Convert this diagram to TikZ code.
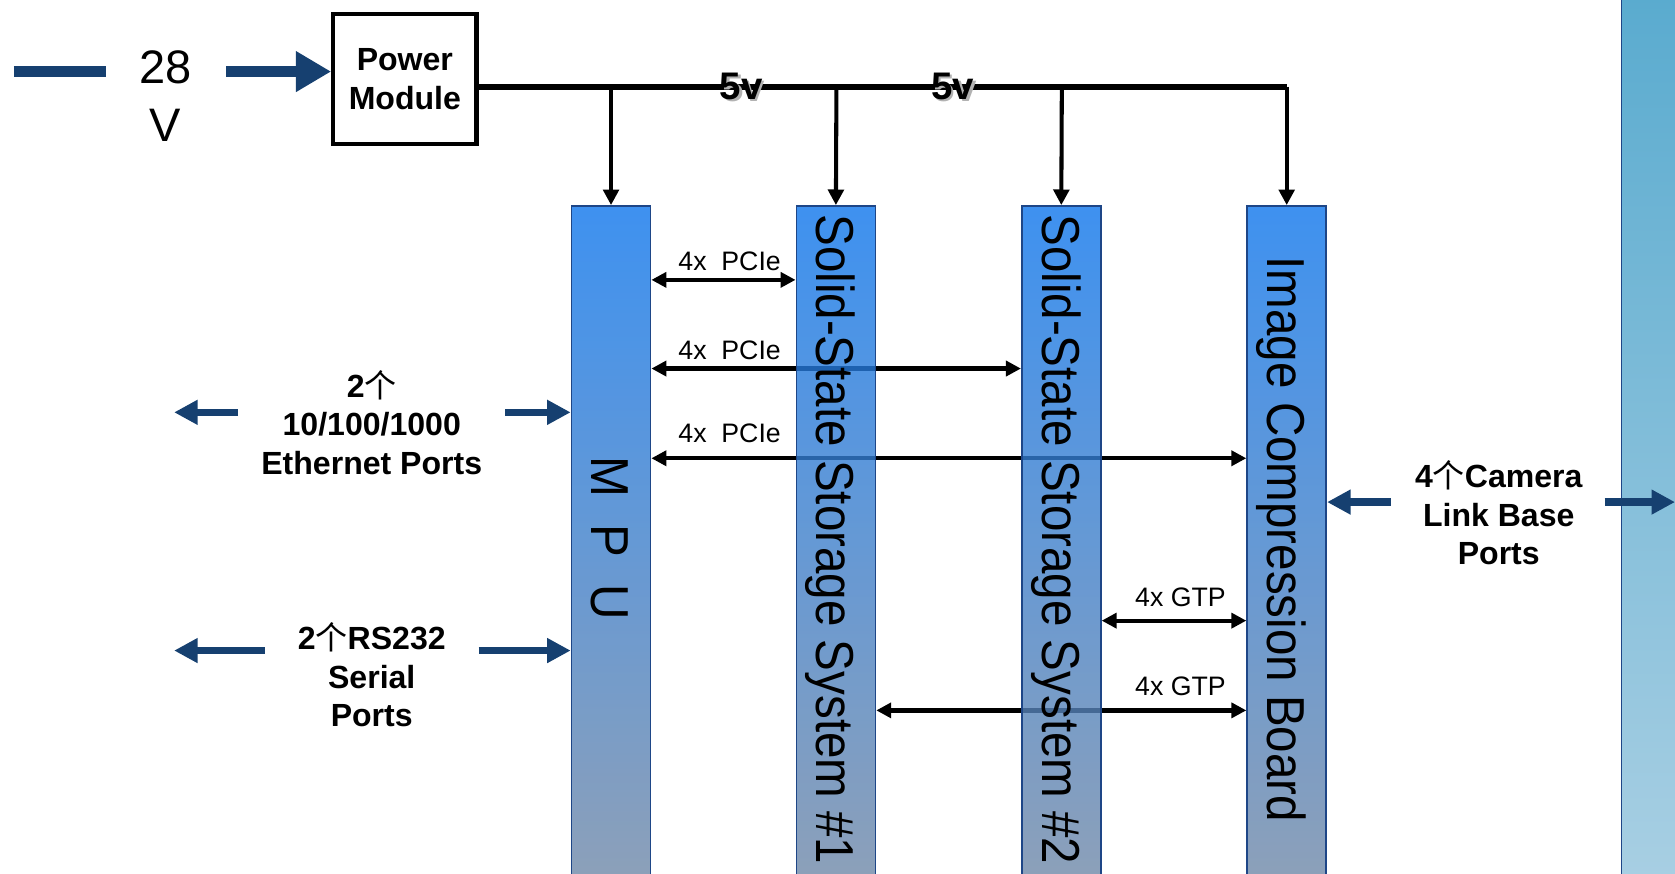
\documentclass[tikz,border=0pt]{standalone}
\usepackage{fontspec}
\setmainfont{Liberation Sans}
\newfontfamily\cjk{Noto Sans CJK SC}
\usetikzlibrary{arrows.meta}
\definecolor{navy}{RGB}{22,64,112}
\definecolor{coltop}{RGB}{14,118,236}
\definecolor{colbot}{RGB}{111,136,168}
\definecolor{colborder}{RGB}{30,70,135}
\definecolor{bartop}{RGB}{90,171,207}
\definecolor{barbot}{RGB}{168,207,227}
\pgfdeclarelayer{bg}
\pgfsetlayers{bg,main}
\newcommand{\gechar}{{\cjk\mdseries 个}}
\begin{document}
\begin{tikzpicture}[x=0.5pt,y=-0.5pt,
  colbox/.style={draw=colborder, line width=0.8pt, top color=coltop, bottom color=colbot, fill opacity=0.8, draw opacity=1, minimum width=37pt, minimum height=313.5pt, anchor=north, inner sep=0pt},
  vtext/.style={rotate=-90, anchor=base, inner sep=0pt, font=\fontsize{25}{30}\selectfont},
  lbl/.style={font=\bfseries\fontsize{15}{18}\selectfont, align=center, inner sep=0pt},
  buslbl/.style={font=\fontsize{12.5}{15}\selectfont, inner sep=0pt},
  vlbl/.style={font=\bfseries\fontsize{18}{20}\selectfont, inner sep=0pt},
  drop/.style={line width=1.9pt, -{Triangle[length=7.3pt,width=7.3pt]}},
  dbl/.style={line width=2pt, {Triangle[length=7pt,width=7pt]}-{Triangle[length=7pt,width=7pt]}},
  navyarrow/.style={navy, line width=3.5pt, -{Triangle[length=11pt,width=11pt]}},
]
\useasboundingbox (0,0) rectangle (1568,818);
\clip (0,0) rectangle (1568,818);

% right bar
\node[anchor=north west, inner sep=0pt, minimum width=32pt, minimum height=415pt, top color=bartop, bottom color=barbot, draw=colborder, line width=0.8pt] (bar) at (1517,-4) {};

% power input
\coordinate (d0) at (13,67);
\coordinate (d1) at (99,67);
\draw[navy, line width=5pt] (d0) -- (d1);
\node[font=\fontsize{22}{27}\selectfont, align=center, inner sep=0pt] (v28) at (155,90) {28\\V};
\node[draw, line width=2pt, minimum width=67pt, minimum height=61pt, lbl] (pm) at (379,74) {Power\\Module};
\coordinate (p0) at (212,67);
\draw[navy, line width=5pt, -{Triangle[length=16.5pt,width=18pt]}] (p0) -- (pm.west |- p0);

% boards
\node[colbox] (mpu) at (572,192) {};
\node[colbox] (s1) at (782.5,192) {};
\node[colbox] (s2) at (993.5,192) {};
\node[colbox] (icb) at (1204.5,192) {};

\node[vtext] (mpuT) at (554,504) {\scalebox{0.92}[1]{M\ \ P\ \ U}};
\node[vtext] (s1T) at (764.5,505) {\scalebox{0.89}[1]{Solid-State Storage System \#1}};
\node[vtext] (s2T) at (975.5,505) {\scalebox{0.89}[1]{Solid-State Storage System \#2}};
\node[vtext] (icbT) at (1186.5,505) {\scalebox{0.89}[1]{Image Compression Board}};

% 5V bus
\coordinate (b1) at (572,81);
\coordinate (b2) at (783,81);
\coordinate (b3) at (994,81);
\coordinate (b4) at (1204.5,81);
\draw[line width=2.8pt] (pm.east |- b1) -- (b4);
\draw[drop] (b1) -- (mpu.north);
\draw[drop] (b2) -- (s1.north);
\draw[drop] (b3) -- (s2.north);
\draw[drop] (b4) -- (icb.north);
\node[vlbl, text=black!30] (v5as) at (696,83) {5v};
\node[vlbl] (v5a) at (694,80.5) {5v};
\node[vlbl, text=black!30] (v5bs) at (894,83) {5v};
\node[vlbl] (v5b) at (892,80.5) {5v};

% data links (under boards)
\begin{pgfonlayer}{bg}
\draw[dbl] (mpu.east |- 0,262) -- (s1.west |- 0,262);
\draw[dbl] (mpu.east |- 0,345) -- (s2.west |- 0,345);
\draw[dbl] (mpu.east |- 0,429) -- (icb.west |- 0,429);
\draw[dbl] (s2.east |- 0,581) -- (icb.west |- 0,581);
\draw[dbl] (s1.east |- 0,665) -- (icb.west |- 0,665);
\end{pgfonlayer}
\node[buslbl] (l1) at (683,245) {4x\ \ PCIe};
\node[buslbl] (l2) at (683,328) {4x\ \ PCIe};
\node[buslbl] (l3) at (683,406) {4x\ \ PCIe};
\node[buslbl] (l4) at (1105,559) {4x GTP};
\node[buslbl] (l5) at (1105,642) {4x GTP};

% ethernet
\node[lbl] (eth) at (348,395.5) {2\gechar\\10/100/1000\\Ethernet Ports};
\coordinate (e1) at (223,386);
\coordinate (e1t) at (163,386);
\draw[navyarrow] (e1) -- (e1t);
\coordinate (e2) at (473,386);
\draw[navyarrow] (e2) -- (mpu.west |- e2);

% serial
\node[lbl] (ser) at (348,632) {2\gechar RS232\\Serial\\Ports};
\coordinate (r1) at (248,609);
\coordinate (r1t) at (163,609);
\draw[navyarrow] (r1) -- (r1t);
\coordinate (r2) at (448,609);
\draw[navyarrow] (r2) -- (mpu.west |- r2);

% camera
\node[lbl] (cam) at (1403,480) {4\gechar Camera\\Link Base\\Ports};
\coordinate (c1) at (1302,470);
\draw[navyarrow] (c1) -- (icb.east |- c1);
\coordinate (c2) at (1502,470);
\coordinate (c2t) at (1568,470);
\draw[navyarrow] (c2) -- (c2t);
\end{tikzpicture}
\end{document}
